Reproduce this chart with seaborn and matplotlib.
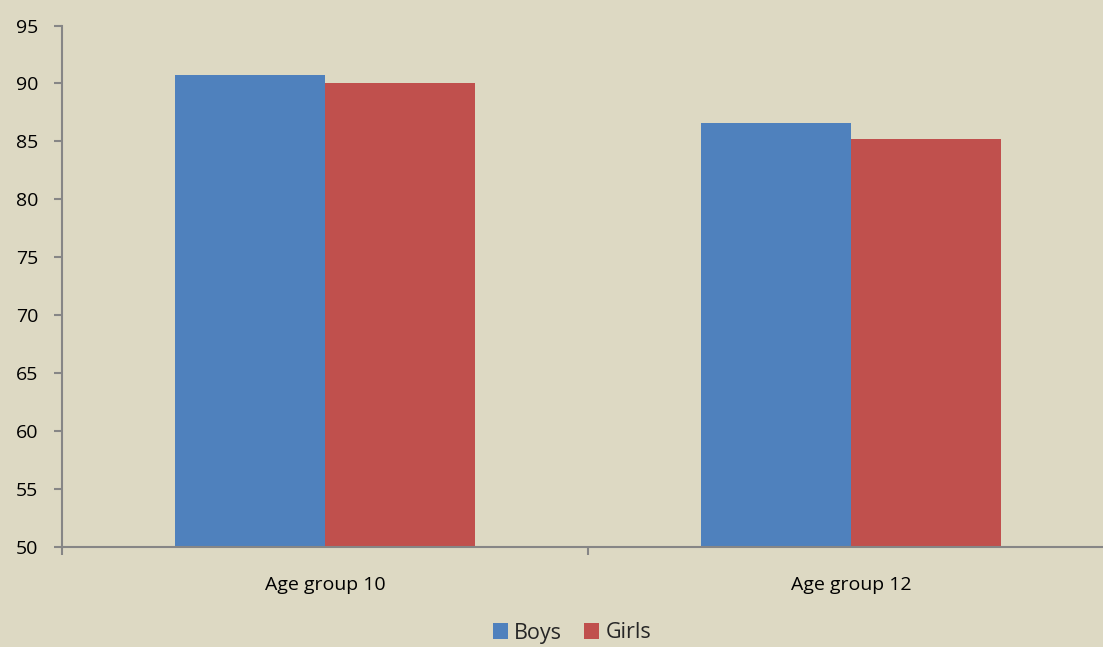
import matplotlib
matplotlib.use("Agg")
import matplotlib.pyplot as plt
import seaborn as sns
import pandas as pd
from matplotlib.patches import Patch

# Scores by age group and gender
groups = ["Age group 10", "Age group 12"]
boys = [90.7, 86.6]
girls = [90.0, 85.2]
series_names = ["Boys", "Girls"]
colors = ["#4F81BD", "#C0504D"]
bg = "#DDD9C3"
axis_color = "#868686"

df = pd.DataFrame({
    "group": groups * 2,
    "value": boys + girls,
    "gender": [series_names[0]] * 2 + [series_names[1]] * 2,
})

sns.set_theme(style="white")
plt.rcParams["font.family"] = ["Open Sans", "DejaVu Sans"]

fig = plt.figure(figsize=(11.03, 6.47), dpi=100, facecolor=bg)
ax = fig.add_axes([62 / 1103, 1 - 547 / 647, 1052 / 1103, (547 - 25.5) / 647])
ax.set_facecolor(bg)

sns.barplot(data=df, x="group", y="value", hue="gender", palette=colors,
            width=0.57, gap=0, saturation=1, ax=ax, legend=False,
            edgecolor="none", linewidth=0)

ax.set_ylim(50, 95)
ax.set_xlim(-0.5, 1.5)
ax.set_yticks(range(50, 96, 5))
ax.set_xlabel("")
ax.set_ylabel("")

for s in ["top", "right"]:
    ax.spines[s].set_visible(False)
for s in ["left", "bottom"]:
    ax.spines[s].set_color(axis_color)
    ax.spines[s].set_linewidth(1.5)

ax.tick_params(axis="y", which="major", direction="out", length=6, width=1.5,
               color=axis_color, labelsize=14, pad=11, labelcolor="black", left=True)
ax.tick_params(axis="x", which="major", length=0, labelsize=14, pad=21,
               labelcolor="black", bottom=True)
ax.set_xticks([-0.5, 0.5, 1.5], minor=True)
ax.tick_params(axis="x", which="minor", direction="out", length=6, width=1.5,
               color=axis_color, bottom=True)

handles = [Patch(facecolor=c, edgecolor="none", label=n) for c, n in zip(colors, series_names)]
fig.legend(handles=handles, loc="center", bbox_to_anchor=(572 / 1103, 14 / 647),
           ncol=2, frameon=False, fontsize=15.5, handlelength=0.7, handleheight=0.7,
           handletextpad=0.3, columnspacing=1.0, borderpad=0)

fig.savefig("out.png", dpi=100, facecolor=bg)
